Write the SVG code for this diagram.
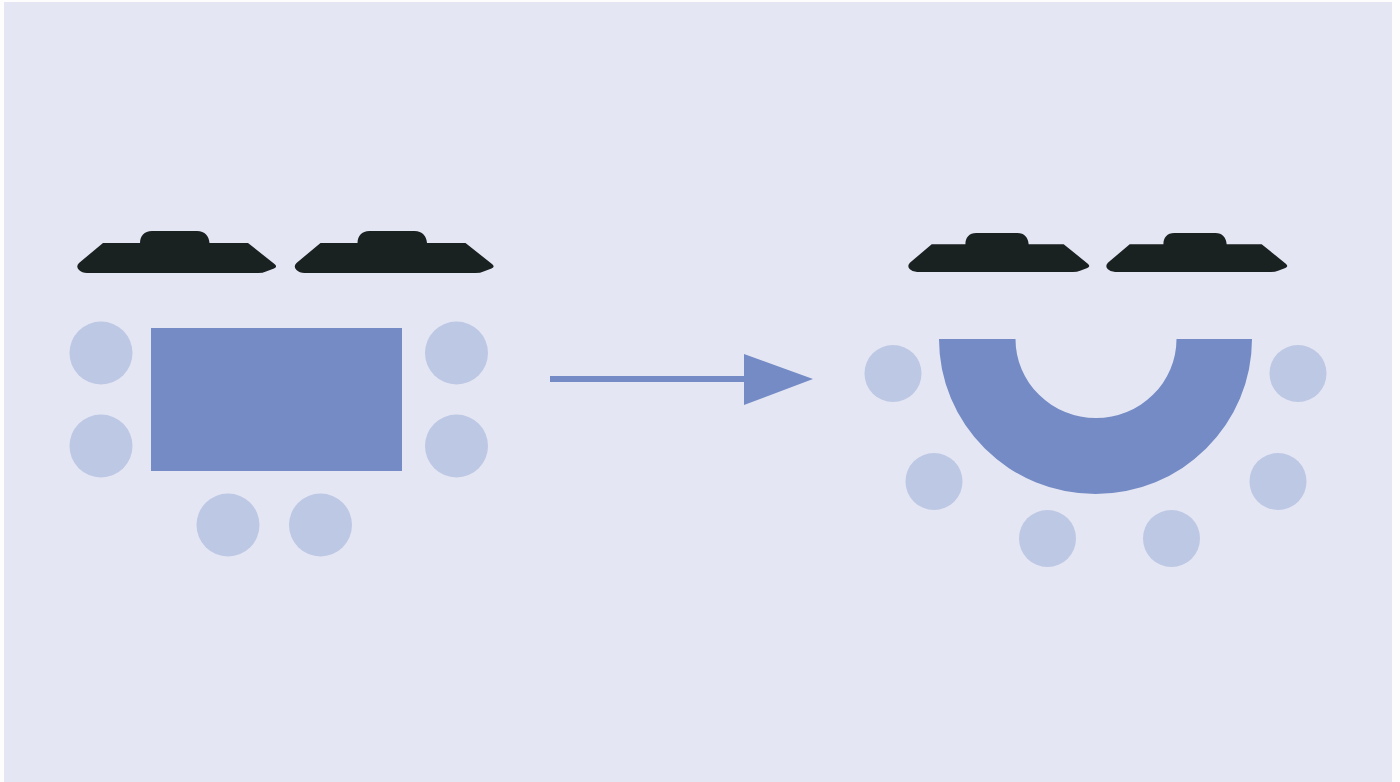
<svg xmlns="http://www.w3.org/2000/svg" width="1400" height="782" viewBox="0 0 1400 782">
<defs><style>
.seat{fill:#bdc8e4}
.table{fill:#748bc5}
.screen{fill:#1a2121}
</style>
<path id="s" d="M103 243H140C140 236 144 231 152 231H197C205 231 209 236 209.500 243H248L274.500 264Q278 267 274 268.500L266 271.500Q263 273 258 273H87Q82 273 79 270Q75.500 266.500 79 263Z"/>
</defs>
<rect width="1400" height="782" fill="#fdfdfe"/>
<rect x="4" y="2" width="1388" height="780" fill="#e4e6f3"/>
<g id="left-screens" class="screen">
<use href="#s"/>
<use href="#s" x="217.500"/>
</g>
<g id="right-screens" class="screen">
<use href="#s" transform="translate(838 18.200) scale(.91 .93)"/>
<use href="#s" transform="translate(1036 18.200) scale(.91 .93)"/>
</g>
<g id="left-table"><rect class="table" x="151" y="328" width="251" height="143"/></g>
<g id="left-seats" class="seat">
<circle cx="101" cy="353" r="31.500"/>
<circle cx="101" cy="446" r="31.500"/>
<circle cx="456.500" cy="353" r="31.500"/>
<circle cx="456.500" cy="446" r="31.500"/>
<circle cx="228" cy="525" r="31.500"/>
<circle cx="320.500" cy="525" r="31.500"/>
</g>
<g id="connectors"><path class="table" d="M550 376H744V354L813 379L744 405V382H550Z"/></g>
<g id="right-table"><path class="table" d="M939 339H1015.500A80.500 79 0 0 0 1176.500 339H1252A156.500 155 0 0 1 939 339Z"/></g>
<g id="right-seats" class="seat">
<circle cx="893" cy="373.500" r="28.500"/>
<circle cx="1298" cy="373.500" r="28.500"/>
<circle cx="934" cy="481.500" r="28.500"/>
<circle cx="1278" cy="481.500" r="28.500"/>
<circle cx="1047.500" cy="538.500" r="28.500"/>
<circle cx="1171.500" cy="538.500" r="28.500"/>
</g>
</svg>
